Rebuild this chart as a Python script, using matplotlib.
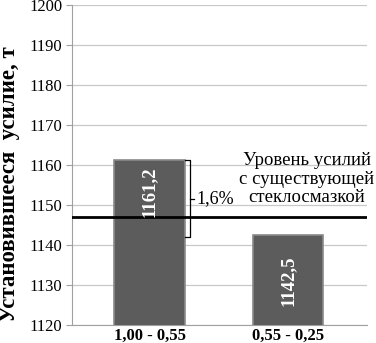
import matplotlib
matplotlib.use("Agg")
import matplotlib.pyplot as plt

categories = ["1,00 - 0,55", "0,55 - 0,25"]
values = [1161.2, 1142.5]
value_labels = ["1161,2", "1142,5"]
existing_level = 1147.0
diff_label = "1,6%"
level_text = "Уровень усилий\nс существующей\nстеклосмазкой"
ylabel = "Установившееся  усилие, т"
yticks = [1120, 1130, 1140, 1150, 1160, 1170, 1180, 1190, 1200]

plt.rcParams['font.family'] = ['Liberation Serif', 'DejaVu Serif']

fig = plt.figure(figsize=(3.76, 3.43), dpi=100)
ax = fig.add_axes([72/376, 1-325/343, (367-72)/376, 320/343])

x = range(len(categories))
bars = ax.bar(x, values, width=0.51, bottom=0, color="#5c5c5c",
              edgecolor="#8a8a8a", linewidth=1.2, zorder=3)
ax.set_ylim(1120, 1200)
ax.set_xlim(-0.56, 1.57)
ax.set_yticks(yticks)
ax.set_yticklabels([str(t) for t in yticks], fontsize=12)
ax.set_xticks(list(x))
ax.set_xticklabels(categories, fontsize=12, fontweight="bold")
ax.tick_params(axis="x", length=0, pad=2)
ax.tick_params(axis="y", length=4, color="#a0a0a0", pad=3)
ax.grid(axis="y", color="#c8c8c8", linewidth=0.9, zorder=0)
for s in ["top", "right"]:
    ax.spines[s].set_visible(False)
ax.spines["left"].set_color("#a0a0a0")
ax.spines["bottom"].set_color("#a0a0a0")

fig.text(9.5/376, 1-184/343, ylabel, rotation=90, ha="center", va="center",
         fontsize=16.5, fontweight="bold")

# value labels inside bars
ax.text(0, values[0] - 8, value_labels[0], rotation=90, ha="center", va="center",
        color="white", fontweight="bold", fontsize=13.5, zorder=5)
ax.text(1, values[1] - 11.5, value_labels[1], rotation=90, ha="center", va="center",
        color="white", fontweight="bold", fontsize=13.5, zorder=5)

# existing level line
ax.axhline(existing_level, color="black", linewidth=2, zorder=4)

# bracket
bx0, bx1 = 0.256, 0.292
ylo = 1142.0
ax.plot([bx0, bx1, bx1, bx0], [values[0], values[0], ylo, ylo],
        color="black", linewidth=0.9, zorder=6)
ymid = (values[0] + ylo) / 2
ax.plot([bx1, bx1 + 0.03], [ymid, ymid], color="black", linewidth=0.9, zorder=6)
ax.text(bx1 + 0.045, ymid, diff_label, ha="left", va="center", fontsize=13, zorder=6)

ax.text(1.137, 1156.5, level_text, ha="center", va="center", multialignment="center",
        fontsize=13.5, linespacing=1.15, zorder=6, clip_on=False)

fig.savefig("out.png", dpi=100)
